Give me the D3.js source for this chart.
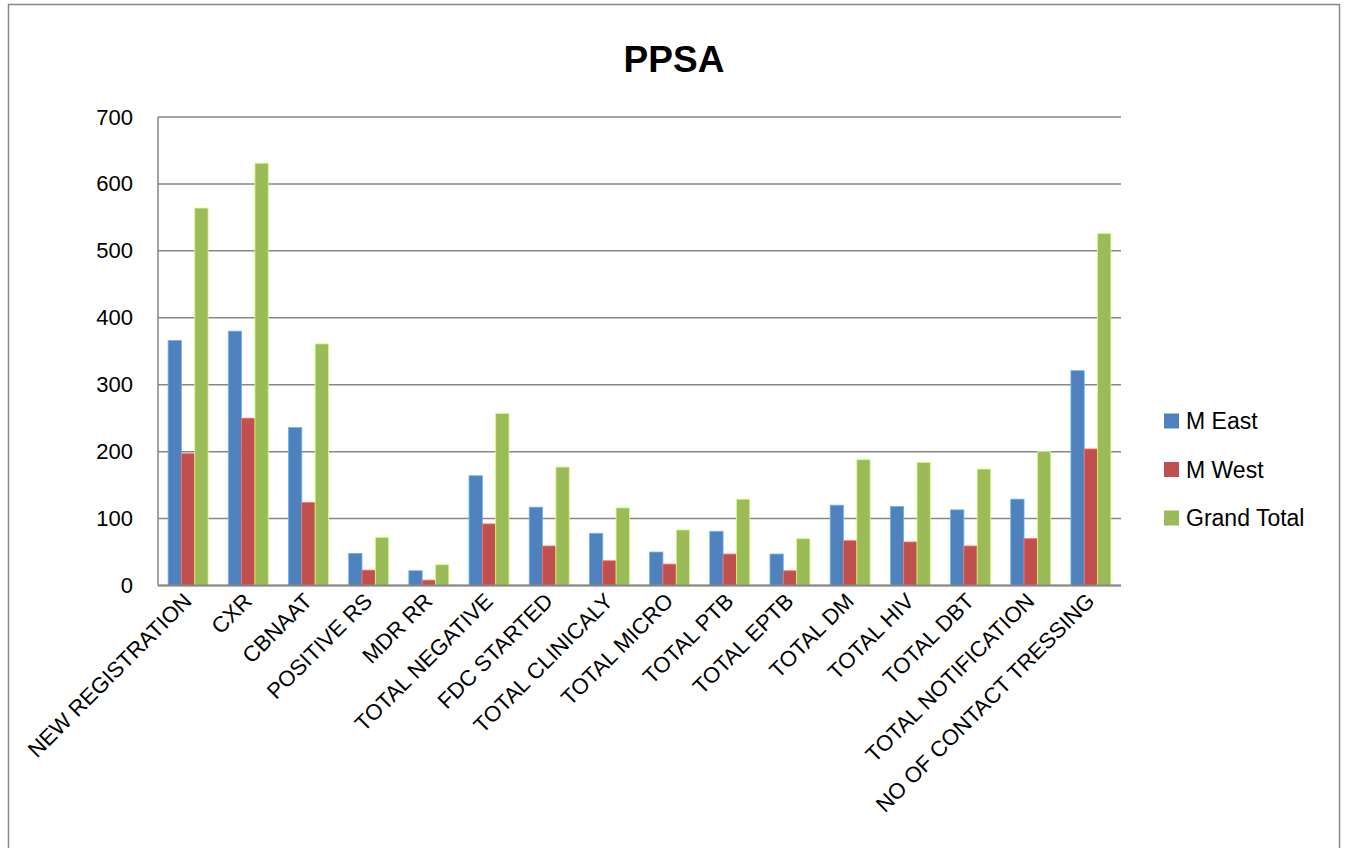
<!DOCTYPE html>
<html>
  <head>
    <meta charset="utf-8">
    <style>
      body {
          margin: 0;
          background: #fff;
          font-family: "Liberation Sans", Arial, sans-serif;
      }
      .grid line {
          stroke: #878787;
          stroke-width: 1.5;
      }
      .yaxis text, .xaxis text, .legend text {
          fill: #000;
      }
    </style>
  </head>
  <body>
    <script src="https://cdnjs.cloudflare.com/ajax/libs/d3/7.8.5/d3.min.js"></script>
    <script>
      // categories and series values
      var categories = ["NEW REGISTRATION", "CXR", "CBNAAT", "POSITIVE RS", "MDR RR",
                        "TOTAL NEGATIVE", "FDC STARTED", "TOTAL CLINICALY", "TOTAL MICRO",
                        "TOTAL PTB", "TOTAL EPTB", "TOTAL DM", "TOTAL HIV", "TOTAL DBT",
                        "TOTAL NOTIFICATION", "NO OF CONTACT TRESSING"];
      var seriesNames = ["M East", "M West", "Grand Total"];
      var mEast      = [366, 380, 236, 48, 22, 164, 117, 78, 50, 81, 47, 120, 118, 113, 129, 321];
      var mWest      = [197, 250, 124, 23, 8, 92, 59, 37, 32, 47, 22, 67, 65, 59, 70, 204];
      var grandTotal = [564, 631, 361, 72, 31, 257, 177, 116, 83, 129, 70, 188, 184, 174, 200, 526];
      var yTicks = [0, 100, 200, 300, 400, 500, 600, 700];
      var colors = ["#4F81BD", "#C0504D", "#9BBB59"];

      var width = 1346, height = 848;
      var plot = {left: 158, right: 1121, top: 117, bottom: 585.5};

      var svg = d3.select("body").append("svg")
          .attr("width", width)
          .attr("height", height);

      // outer chart border
      svg.append("rect")
          .attr("x", 8.5).attr("y", 4.5)
          .attr("width", 1331).attr("height", 860)
          .attr("fill", "none")
          .attr("stroke", "#888")
          .attr("stroke-width", 1.5);

      // title
      svg.append("text")
          .attr("x", 674).attr("y", 72)
          .attr("text-anchor", "middle")
          .style("font-size", "37px")
          .style("font-weight", "bold")
          .text("PPSA");

      var x0 = d3.scaleBand()
          .domain(categories)
          .range([plot.left, plot.right]);

      var x1 = d3.scaleBand()
          .domain(seriesNames)
          .range([x0.bandwidth() * 0.168, x0.bandwidth() * 0.832]);

      var y = d3.scaleLinear()
          .domain([0, 700])
          .range([plot.bottom, plot.top]);

      // gridlines
      svg.append("g").attr("class", "grid")
          .selectAll("line")
          .data(yTicks)
          .enter().append("line")
          .attr("x1", plot.left).attr("x2", plot.right)
          .attr("y1", function(d) { return y(d); })
          .attr("y2", function(d) { return y(d); });

      // left axis line
      svg.append("line")
          .attr("x1", plot.left).attr("x2", plot.left)
          .attr("y1", plot.top).attr("y2", plot.bottom)
          .attr("stroke", "#878787")
          .attr("stroke-width", 1.5);

      // y axis labels
      var yAxis = svg.append("g")
          .attr("class", "yaxis")
          .attr("transform", "translate(" + plot.left + ",0)")
          .call(d3.axisLeft(y).tickValues(yTicks).tickSize(0).tickPadding(25));
      yAxis.select(".domain").remove();
      yAxis.selectAll("text")
          .style("font-size", "22px")
          .style("font-family", "'Liberation Sans', Arial, sans-serif");

      // bars
      var rows = categories.map(function(c, i) {
          return {cat: c, values: [mEast[i], mWest[i], grandTotal[i]]};
      });

      var group = svg.append("g").selectAll("g")
          .data(rows)
          .enter().append("g")
          .attr("transform", function(d) { return "translate(" + x0(d.cat) + ",0)"; });

      group.selectAll("rect")
          .data(function(d) {
              return d.values.map(function(v, j) { return {name: seriesNames[j], value: v, j: j}; });
          })
          .enter().append("rect")
          .attr("x", function(d) { return x1(d.name); })
          .attr("y", function(d) { return y(d.value); })
          .attr("width", x1.bandwidth())
          .attr("height", function(d) { return y(0) - y(d.value); })
          .attr("fill", function(d) { return colors[d.j]; })
          .attr("stroke", function(d) { return d3.color(colors[d.j]).brighter(0.9); })
          .attr("stroke-width", 0.8);

      // bottom axis line over bars
      svg.append("line")
          .attr("x1", plot.left).attr("x2", plot.right)
          .attr("y1", plot.bottom).attr("y2", plot.bottom)
          .attr("stroke", "#878787")
          .attr("stroke-width", 2);

      // x axis labels, rotated
      var xAxis = svg.append("g")
          .attr("class", "xaxis")
          .attr("transform", "translate(0," + plot.bottom + ")")
          .call(d3.axisBottom(x0).tickSize(0).tickPadding(0));
      xAxis.select(".domain").remove();
      xAxis.selectAll("text")
          .style("font-size", "22px")
          .style("font-family", "'Liberation Sans', Arial, sans-serif")
          .attr("text-anchor", "end")
          .attr("dy", null)
          .attr("y", 0)
          .attr("transform", "translate(5,17) rotate(-45)");

      // legend
      var legend = svg.append("g").attr("class", "legend")
          .selectAll("g")
          .data(seriesNames)
          .enter().append("g")
          .attr("transform", function(d, i) { return "translate(1164," + (421 + i * 48.5) + ")"; });

      legend.append("rect")
          .attr("x", 0).attr("y", -7.5)
          .attr("width", 15).attr("height", 15)
          .attr("fill", function(d, i) { return colors[i]; });

      legend.append("text")
          .attr("x", 22).attr("y", 0)
          .attr("dy", "0.36em")
          .style("font-size", "23px")
          .text(function(d) { return d; });
    </script>
  </body>
</html>
